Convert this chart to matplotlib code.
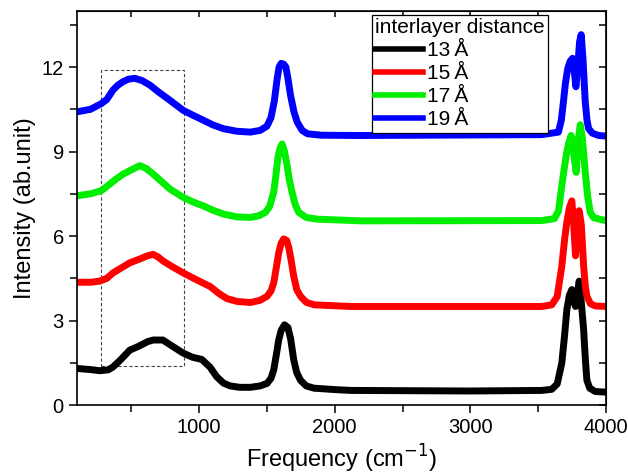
import matplotlib
matplotlib.use("Agg")
import matplotlib.pyplot as plt
from matplotlib.patches import Rectangle
from matplotlib.ticker import MultipleLocator

plt.rcParams['font.family'] = ['Liberation Sans', 'DejaVu Sans']

# spectra (vertical offset already included)
x_13 = [100, 200, 267, 330, 365, 420, 489, 560, 620, 662, 733, 800, 881, 950, 1020, 1080, 1131, 1180,
        1229, 1300, 1378, 1450, 1501, 1530, 1550, 1570, 1587, 1605, 1630, 1655, 1675, 1698, 1720, 1748,
        1790, 1847, 2000, 2119, 3000, 3526, 3600, 3640, 3674, 3695, 3711, 3730, 3748, 3762, 3775, 3790,
        3802, 3815, 3835, 3848, 3859, 3880, 3921, 4000]
y_13 = [1.30, 1.26, 1.22, 1.25, 1.35, 1.60, 1.95, 2.10, 2.25, 2.31, 2.31, 2.10, 1.85, 1.70, 1.62, 1.35, 1.00, 0.78,
        0.68, 0.63, 0.63, 0.68, 0.77, 0.95, 1.24, 1.80, 2.31, 2.65, 2.85, 2.75, 2.35, 1.60, 1.15, 0.88,
        0.68, 0.60, 0.55, 0.52, 0.50, 0.52, 0.56, 0.75, 1.49, 2.50, 3.38, 3.90, 4.10, 3.70, 3.50, 4.00,
        4.40, 3.80, 2.67, 1.60, 0.88, 0.60, 0.48, 0.46]

x_15 = [100, 200, 267, 320, 365, 420, 489, 560, 620, 662, 700, 736, 800, 884, 980, 1081, 1150, 1205,
        1280, 1378, 1450, 1501, 1530, 1550, 1570, 1587, 1605, 1624, 1645, 1661, 1680, 1698, 1720, 1748,
        1790, 1847, 2119, 3526, 3600, 3640, 3674, 3695, 3711, 3730, 3748, 3762, 3775, 3790, 3802, 3818,
        3835, 3848, 3859, 3885, 3921, 4000]
y_15 = [4.36, 4.36, 4.40, 4.50, 4.69, 4.85, 5.05, 5.18, 5.30, 5.35, 5.25, 5.11, 4.92, 4.69, 4.45, 4.21, 3.95, 3.78,
        3.68, 3.64, 3.72, 3.86, 4.05, 4.33, 4.90, 5.40, 5.75, 5.90, 5.85, 5.60, 5.10, 4.57, 4.10, 3.86,
        3.65, 3.56, 3.50, 3.50, 3.56, 3.85, 4.93, 5.90, 6.49, 7.00, 7.25, 6.40, 5.30, 6.40, 6.90, 6.40,
        4.93, 4.20, 3.86, 3.60, 3.52, 3.50]

x_17 = [100, 200, 279, 330, 390, 440, 489, 563, 610, 662, 720, 785, 884, 960, 1032, 1100, 1180, 1280,
        1378, 1440, 1489, 1520, 1550, 1565, 1580, 1595, 1612, 1630, 1649, 1665, 1686, 1710, 1735, 1790,
        1871, 2190, 3526, 3620, 3650, 3674, 3695, 3711, 3725, 3743, 3760, 3780, 3795, 3810, 3825, 3847,
        3865, 3884, 3910, 3970, 4000]
y_17 = [7.43, 7.50, 7.61, 7.80, 8.03, 8.20, 8.32, 8.50, 8.40, 8.20, 7.95, 7.67, 7.37, 7.20, 7.07, 6.92, 6.78, 6.68,
        6.66, 6.72, 6.84, 7.05, 7.55, 8.10, 8.74, 9.10, 9.27, 9.00, 8.50, 8.00, 7.55, 7.10, 6.84, 6.66,
        6.60, 6.54, 6.55, 6.62, 6.90, 7.79, 8.50, 8.98, 9.30, 9.57, 9.00, 8.26, 9.40, 9.95, 9.50, 8.26,
        7.40, 6.84, 6.65, 6.58, 6.55]

x_19 = [100, 200, 279, 320, 365, 400, 439, 480, 526, 580, 637, 700, 785, 884, 950, 1032, 1100, 1180,
        1280, 1378, 1450, 1500, 1530, 1555, 1576, 1590, 1605, 1625, 1640, 1655, 1674, 1700, 1723, 1760,
        1800, 1900, 2190, 3526, 3649, 3670, 3686, 3700, 3718, 3735, 3753, 3765, 3778, 3790, 3805, 3817,
        3830, 3847, 3860, 3872, 3900, 3946, 4000]
y_19 = [10.41, 10.50, 10.70, 10.85, 11.18, 11.35, 11.48, 11.57, 11.60, 11.52, 11.36, 11.12, 10.82, 10.46, 10.30, 10.11, 9.95, 9.81,
        9.72, 9.69, 9.75, 9.90, 10.20, 10.80, 11.60, 12.00, 12.13, 12.10, 12.00, 11.60, 11.00, 10.40, 10.05, 9.75,
        9.63, 9.58, 9.57, 9.60, 9.69, 10.10, 10.76, 11.40, 11.95, 12.20, 12.31, 11.90, 11.30, 11.90, 12.90, 13.15,
        12.30, 10.76, 10.10, 9.81, 9.65, 9.57, 9.55]

labels = ['13\u2009Å', '15\u2009Å', '17\u2009Å', '19\u2009Å']
colors = ['black', 'red', '#00ee00', 'blue']

# dashed box around the low-frequency band
box_x = (280, 890)
box_y = (1.4, 11.9)

fig = plt.figure(figsize=(6.28, 4.76), dpi=100)
ax = fig.add_axes([0.1226, 0.149, 0.8424, 0.8285])

for xs, ys, lab, c in zip([x_13, x_15, x_17, x_19], [y_13, y_15, y_17, y_19], labels, colors):
    ax.plot(xs, ys, color=c, lw=5, label=lab, solid_joinstyle='round')

ax.add_patch(Rectangle((box_x[0], box_y[0]), box_x[1] - box_x[0], box_y[1] - box_y[0],
                       fill=False, ls=(0, (3, 2)), lw=0.8, ec='#444444'))

ax.set_xlim(100, 4000)
ax.set_ylim(0, 14)
ax.xaxis.set_major_locator(MultipleLocator(1000))
ax.xaxis.set_minor_locator(MultipleLocator(500))
ax.yaxis.set_major_locator(MultipleLocator(3))
ax.yaxis.set_minor_locator(MultipleLocator(1.5))
ax.tick_params(which='major', direction='out', length=6, width=1.1, labelsize=14.5)
ax.tick_params(which='minor', direction='out', length=5, width=1.1)
for s in ax.spines.values():
    s.set_linewidth(1.2)

top = ax.secondary_xaxis('top')
top.xaxis.set_major_locator(MultipleLocator(500))
top.tick_params(direction='in', length=4.5, width=1.1, labeltop=False)
right = ax.secondary_yaxis('right')
right.yaxis.set_major_locator(MultipleLocator(1.5))
right.tick_params(direction='in', length=5, width=1.1, labelright=False)

ax.set_xlabel('Frequency (cm$^{-1}$)', fontsize=17)
ax.set_ylabel('Intensity (ab.unit)', fontsize=17)

leg = ax.legend(loc='upper left', bbox_to_anchor=(0.557, 0.99), title='interlayer distance',
                fontsize=15, title_fontsize=15, frameon=True, fancybox=False, edgecolor='black',
                framealpha=1, borderpad=0.15, labelspacing=0.2, handlelength=2.3,
                handletextpad=0.2, borderaxespad=0)
leg.get_frame().set_linewidth(0.9)
leg._legend_box.align = 'left'
for line in leg.get_lines():
    line.set_linewidth(4)

fig.savefig('out.png', dpi=100)
